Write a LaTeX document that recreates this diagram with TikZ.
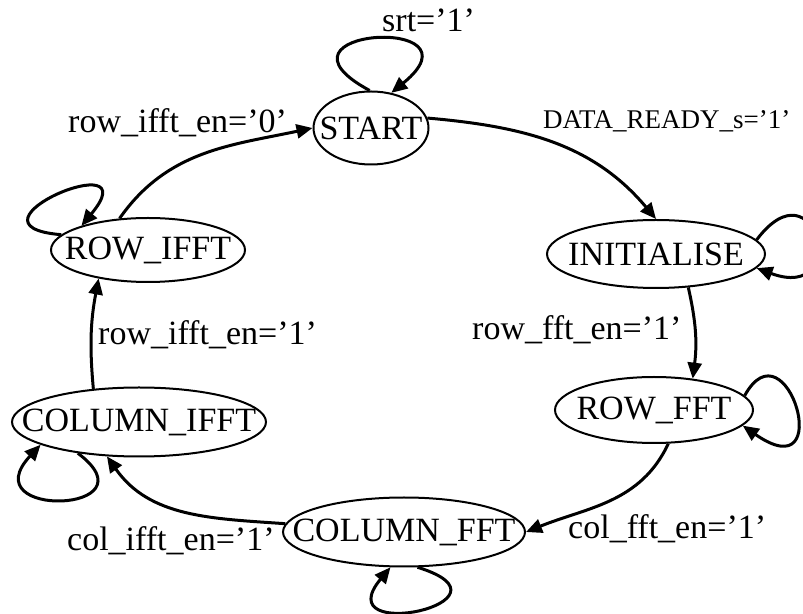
\documentclass[tikz,border=0pt]{standalone}
\usepackage{fontspec}
\setmainfont{Liberation Serif}
\usepackage{tikz}
\usetikzlibrary{arrows.meta,shapes.geometric,positioning}

\tikzset{
  fsmstate/.style={draw, ellipse, line width=2pt, inner sep=0pt},
  fsmedge/.style={line width=3pt, -{Triangle[length=16pt,width=14pt]}},
  fsmlabel/.style={anchor=base west, inner sep=0pt}
}

\begin{document}
\begin{tikzpicture}[x=1pt, y=1pt, font=\fontsize{34}{40}\selectfont]
  \useasboundingbox (0,0) rectangle (803,613);
  %%%%%%%%%%%%%%%%States%%%%%%%%%%%%%%

  \node[fsmstate, minimum width=115pt, minimum height=73pt, label=center:START] (start) at (371,485) {};
  \node[fsmstate, minimum width=218pt, minimum height=68pt, label=center:INITIALISE] (init) at (656,359) {};
  \node[fsmstate, minimum width=198pt, minimum height=66pt, label=center:ROW\_FFT] (rowfft) at (654,203) {};
  \node[fsmstate, minimum width=242pt, minimum height=69pt, label=center:COLUMN\_FFT] (colfft) at (404,81) {};
  \node[fsmstate, minimum width=254pt, minimum height=69pt, label=center:COLUMN\_IFFT] (colifft) at (139,191) {};
  \node[fsmstate, minimum width=194pt, minimum height=64pt, label=center:ROW\_IFFT] (rowifft) at (148,363) {};

  %%%%%%%%%%%%%%%%Transitions%%%%%%%%%%%%%%

  \draw[fsmedge] (start.10) to[out=-5, in=130] (init.north);
  \draw[fsmedge] (init.-46) to[bend left=10] (rowfft.39);
  \draw[fsmedge] (rowfft.-67) to[out=-115, in=22] (colfft.east);
  \draw[fsmedge] (colfft.176) to[out=176, in=-55] (colifft.-133);
  \draw[fsmedge] (colifft.144) to[bend left=8] (rowifft.-150);
  \draw[fsmedge] (rowifft.132) to[out=55, in=192] (start.west);

  % self loops
  \draw[fsmedge] (start.92) .. controls +(-115,62) and +(97,79) .. (start.60);
  \draw[fsmedge] (init.8) .. controls +(60,80) and +(95,-35) .. (init.-8);
  \draw[fsmedge] (rowfft.9) .. controls +(42,76) and +(95,-66) .. (rowfft.-10);
  \draw[fsmedge] (colfft.-69) .. controls +(110,-34) and +(-65,-78) .. (colfft.-111);
  \draw[fsmedge] (colifft.207) .. controls +(80,-60) and +(-70,-75) .. (colifft.193);
  \draw[fsmedge] (rowifft.170) .. controls +(-110,9) and +(70,84) .. (rowifft.160);

  %%%%%%%%%%%%%%%%Conditions%%%%%%%%%%%%%%

  \node[fsmlabel] (srt lbl) at (382,581) {srt='1'};
  \node[fsmlabel, font=\fontsize{27}{30}\selectfont] (ready lbl) at (543,484) {DATA\_READY\_s='1'};
  \node[fsmlabel] (rowfft lbl) at (472,273) {row\_fft\_en='1'};
  \node[fsmlabel] (colfft lbl) at (568,74) {col\_fft\_en='1'};
  \node[fsmlabel] (colifft lbl) at (67,62) {col\_ifft\_en='1'};
  \node[fsmlabel] (rowifft lbl) at (98,268) {row\_ifft\_en='1'};
  \node[fsmlabel] (back lbl) at (68,480) {row\_ifft\_en='0'};

\end{tikzpicture}
\end{document}
